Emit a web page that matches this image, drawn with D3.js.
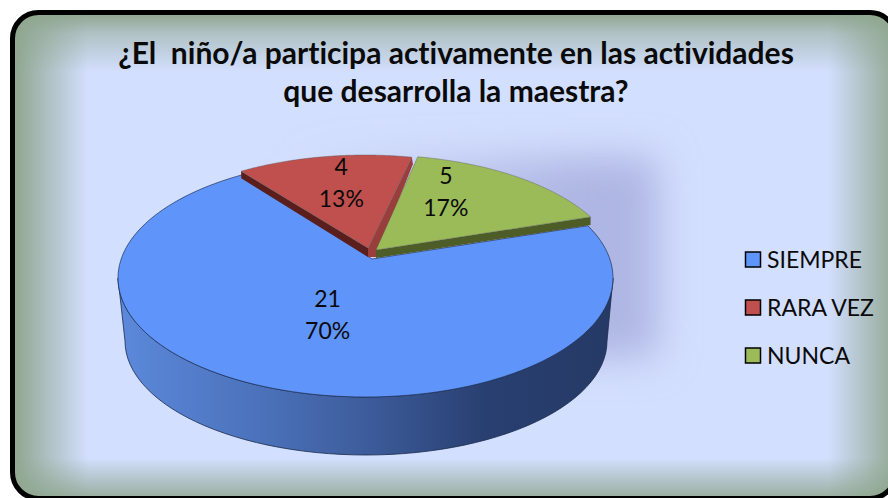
<!DOCTYPE html>
<html><head><meta charset="utf-8">
<script src="https://cdn.jsdelivr.net/npm/d3@7"></script>
<style>html,body{margin:0;padding:0;background:#fff;overflow:hidden}svg{display:block}text{font-family:Lato,"Open Sans",sans-serif;fill:#0a0a0a;font-variant-ligatures:none}</style>
</head><body><svg id="c" width="888" height="498"></svg>
<script>
const categories = ["SIEMPRE","RARA VEZ","NUNCA"];
const values = [21,4,5];
const percentLabels = ["70%","13%","17%"];
const titleLines = ["¿El  niño/a participa activamente en las actividades","que desarrolla la maestra?"];
const colors = ["#5f95fb","#c0504d","#9bbb59"];

const svg = d3.select("#c");
const defs = svg.append("defs");
const W=888,H=498;
const rad = d=>d*Math.PI/180;
const green="#8ea58d", bg="#d3dffe";
function lg(id,x1,y1,x2,y2,stops){
  const g=defs.append("linearGradient").attr("id",id).attr("gradientUnits","userSpaceOnUse")
    .attr("x1",x1).attr("y1",y1).attr("x2",x2).attr("y2",y2);
  stops.forEach(s=>g.append("stop").attr("offset",s[0]).attr("stop-color",s[1]).attr("stop-opacity",s[2]===undefined?1:s[2]));
}
const edge=[[0,green,1],[0.45,green,0.55],[1,green,0]];
const edgeTop=[[0,green,1],[0.35,green,0.5],[1,green,0]];
lg("gL",13,0,88,0,edge); lg("gR",900,0,828,0,edge); lg("gT",0,13,0,72,edgeTop); lg("gB",0,505,0,458,edge);
lg("side",125,0,607,0,[[0,"#5b88da"],[0.3,"#4a70b8"],[0.52,"#3c5a98"],[0.75,"#283f70"],[1,"#263a66"]]);
lg("shadow",290,0,570,0,[[0,"#aeb6e3",0],[1,"#aeb6e3",1]]);
defs.append("clipPath").attr("id","frame").append("rect").attr("x",12.5).attr("y",12.5).attr("width",883.5).attr("height",486).attr("rx",26);
defs.append("filter").attr("id","blur").attr("filterUnits","userSpaceOnUse").attr("x",150).attr("y",60).attr("width",650).attr("height",400)
  .append("feGaussianBlur").attr("stdDeviation",19);

const bgG=svg.append("g").attr("clip-path","url(#frame)");
bgG.append("rect").attr("width",W).attr("height",H).attr("fill",bg);
bgG.append("rect").attr("x",290).attr("y",157).attr("width",368).attr("height",200).attr("fill","url(#shadow)").attr("filter","url(#blur)");
[["gL",0,0,90,H],["gR",820,0,68,H],["gT",0,0,W,75],["gB",0,455,W,43]].forEach(r=>
  bgG.append("rect").attr("x",r[1]).attr("y",r[2]).attr("width",r[3]).attr("height",r[4]).attr("fill",`url(#${r[0]})`));
svg.append("rect").attr("x",12.5).attr("y",12.5).attr("width",883.5).attr("height",486).attr("rx",26).attr("fill","none").attr("stroke","#000").attr("stroke-width",5);

// Title
svg.selectAll("text.title").data(titleLines).join("text").attr("class","title")
  .attr("x",456).attr("y",(d,i)=>64+i*38).attr("text-anchor","middle").attr("font-size",30).attr("font-weight",700).attr("xml:space","preserve").style("white-space","pre").text(d=>d);

// Perspective pie: angles from d3.pie, rays cast from each slice's apex to its rim ellipse
const pie=d3.pie().sort(null).startAngle(rad(72)).endAngle(rad(72+360));
const arcs=pie(values);
const geom=[
 {ax:372,ay:259,ex:365.5,ey:278,rx:247.5,ry:119,ratio:0.4745,ldx:5,ldy:-16,labelR:0.55,depth:0},
 {ax:368,ay:248,ex:365,ey:273,rx:245,ry:118,ratio:0.44,ldx:-2,ldy:-14,labelR:0.56,depth:9},
 {ax:376,ay:250,ex:375,ey:273,rx:245,ry:118,ratio:0.4745,ldx:0,ldy:-21,labelR:0.50,depth:8}
];
function rim(g,t){
  const dx=Math.sin(t), dy=-Math.cos(t)*g.ratio;
  const px=(g.ax-g.ex)/g.rx, py=(g.ay-g.ey)/g.ry, qx=dx/g.rx, qy=dy/g.ry;
  const a=qx*qx+qy*qy,b=2*(px*qx+py*qy),c=px*px+py*py-1;
  const s=(-b+Math.sqrt(b*b-4*a*c))/(2*a);
  return [g.ax+s*dx,g.ay+s*dy];
}
function rimPts(g,a0,a1){return d3.range(0,121).map(i=>rim(g,a0+(a1-a0)*i/120));}
const line=d3.line();
const g=svg.append("g");

// blue wall: between lower half of top ellipse and bottom ellipse
const B=geom[0];
const bot={ex:366,ey:341,rx:241,ry:114};
const topArc=d3.range(0,181,3).map(t=>[B.ex+B.rx*Math.cos(rad(t)),B.ey+B.ry*Math.sin(rad(t))]);
const botArc=d3.range(180,-1,-3).map(t=>[bot.ex+bot.rx*Math.cos(rad(t)),bot.ey+bot.ry*Math.sin(rad(t))]);
g.append("path").attr("d",line(topArc.concat(botArc))+"Z").attr("fill","url(#side)").attr("stroke","#1b2a4a").attr("stroke-width",0.8);
// blue top
const blue=arcs[0];
g.append("path").attr("d",line([[B.ax,B.ay]].concat(rimPts(B,blue.startAngle,blue.endAngle)))+"Z").attr("fill",colors[0]).attr("stroke","#1d2f55").attr("stroke-width",0.7);

// red & green walls + tops
const wallColor=[null,["#5a1f1d","#9a3e3c"],["#4e5d27","#4e5d27"]];
[1,2].forEach(i=>{
  const G=geom[i],a=arcs[i];
  const p0=rim(G,a.startAngle),p1=rim(G,a.endAngle),D=G.depth;
  const drop=(p,d)=>[p[0],p[1]+d];
  if(i===1){
    g.append("path").attr("d",line([[G.ax,G.ay],p0,drop(p0,7),[G.ax,G.ay+D]])+"Z").attr("fill",wallColor[i][0]);
    g.append("path").attr("d",line([[G.ax,G.ay],p1,[p1[0]+1,p1[1]+7],[G.ax+8,G.ay+D],[G.ax,G.ay+D]])+"Z").attr("fill",wallColor[i][1]);
  } else {
    g.append("path").attr("d",line([[G.ax,G.ay],p1,drop(p1,D),[G.ax,G.ay+D]])+"Z").attr("fill",wallColor[i][0]);
  }
  g.append("path").attr("d",line([[G.ax,G.ay]].concat(rimPts(G,a.startAngle,a.endAngle)))+"Z").attr("fill",colors[i]).attr("stroke","#555").attr("stroke-width",0.4);
});

// Data labels
arcs.forEach((a,i)=>{
  const G=geom[i],m=(a.startAngle+a.endAngle)/2;
  const rp=rim(G,m);
  const x=G.ax+(rp[0]-G.ax)*G.labelR+G.ldx,y=G.ay+(rp[1]-G.ay)*G.labelR+G.ldy;
  const t=svg.append("text").attr("text-anchor","middle").attr("font-size",23);
  t.append("tspan").attr("x",x).attr("y",y-8).text(values[i]);
  t.append("tspan").attr("x",x).attr("y",y+24).text(percentLabels[i]);
});

// Legend
const ly=d3.scalePoint().domain(categories).range([259.5,355.5]);
const lgd=svg.selectAll("g.l").data(categories).join("g").attr("class","l").attr("transform",d=>`translate(745,${ly(d)})`);
lgd.append("rect").attr("x",0.5).attr("y",-7.5).attr("width",15).attr("height",15).attr("fill",(d,i)=>colors[i]).attr("stroke","#000").attr("stroke-width",1.5);
lgd.append("text").attr("x",22).attr("y",8).attr("font-size",23).text(d=>d);
</script></body></html>
